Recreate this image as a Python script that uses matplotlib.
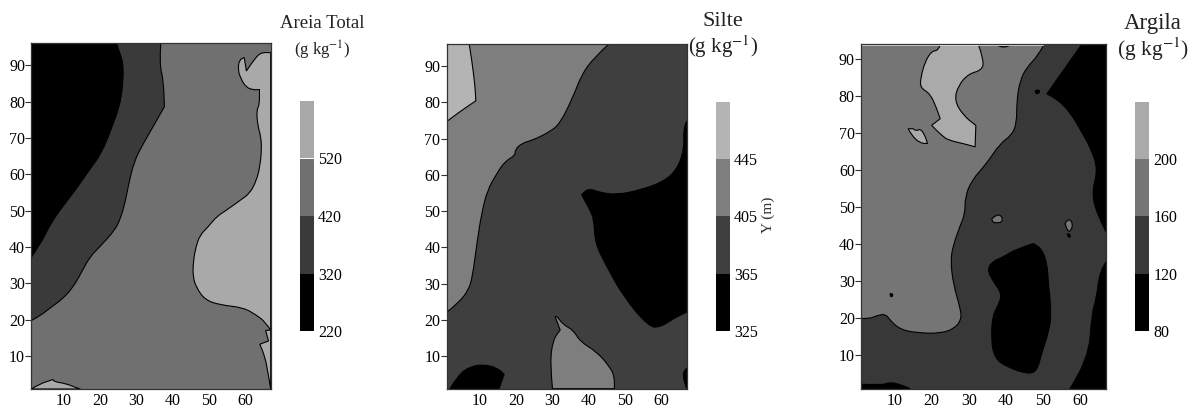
import numpy as np
import matplotlib
matplotlib.use('Agg')
import matplotlib.pyplot as plt
from matplotlib.path import Path
from matplotlib.patches import PathPatch

plt.rcParams['font.family'] = ['Liberation Serif', 'DejaVu Serif']
plt.rcParams['mathtext.fontset'] = 'stix'

# --- Areia Total: contour regions (x, y in m)
# a point written twice stays a sharp corner, the others are bezier control points
areia_preto = [(24.5,96),(25.6,92.8),(26.4,90),(26.2,84),(25.3,78.6),(23.1,72.6),(20.4,65.8),(17,61.2),
               (13.5,56.1),(8.9,50.2),(6.1,46),(3.4,40.6),(1,37.2),(1,96)]
areia_escuro = [(36.7,96),(36.3,90.5),(37.4,86),(37.7,78.6),(37.7,78.6),(35.1,74),(31.9,68.5),(29.3,63.5),(27.7,56.6),
                (26.8,52),(25.6,47.9),(24.1,44.7),(19.9,40.1),(17.2,37.4),(14.9,33.2),(12.6,29.1),(9.8,25.9),
                (6.1,23.2),(3.4,21.1),(1,19.8),(1,96)]
areia_claro_dir = [(67,93.4),(64.6,93.7),(62.7,91.9),(60.3,88.4),(60.3,88.4),(59.7,92.1),(59.7,92.1),(58.3,91.4),(58,88.7),(58.7,86.4),
                   (60.2,83.9),(62.2,83.2),(63.9,83.3),(63.9,83.3),(63.9,79),(63.1,77.7),(63.4,73.5),(64.3,70.3),(64.5,66.7),
                   (64,62),(63.1,58.4),(61.3,54.8),(58.5,52.8),(54.9,50.2),(52.1,48.4),(49.8,45.6),(47.5,43.3),
                   (46.4,40.1),(45.7,36.4),(45.5,31.9),(46.6,28.7),(48.9,25.5),(53,24.1),(59.4,23.4),(63.1,21.3),
                   (65.4,19.5),(67,17.2)]
areia_claro_baixo_dir = [(67,17.2),(65.6,17.1),(65.6,17.1),(66.4,14.2),(66.4,14.2),(64,13.3),(64,13.3),(65.4,9.9),(66.3,5.3),(67,1)]
areia_claro_esq = [(1,1),(3.5,2.5),(6.5,3.4),(7,3.7),(7.3,3),(10.5,2.5),(13,1.5),(14.5,1)]

# --- Silte
silte_claro = [(7.2,96),(7.9,91.7),(8.8,84.4),(9,80.4),(9,80.4),(4.7,77.5),(1,74.7),(1,96)]
silte_medio = [(45.5,96),(41.4,92.2),(38.1,87.6),(35.8,81.6),(32.2,74.2),(29.4,71.9),(24.8,69.6),(21.6,68.7),
               (19.8,66.9),(19.8,65.3),(17,63.7),(14.8,60.4),(12.2,55.8),(10.6,49.4),(9.3,41.1),(8.1,31.9),
               (7,28.2),(4.2,24.6),(1,22.1),(1,96)]
silte_medio_baixo = [(30.1,1),(29.4,8),(30.2,14.4),(32.2,17.2),(32.2,17.2),(30.8,20.9),(30.8,20.9),(31.4,20.9),(33.1,18.6),(35.8,17.2),
                     (37.7,14),(42.2,11.2),(45.5,7.5),(47.3,4.3),(47.1,1)]
silte_preto = [(67,74.7),(66.1,73.3),(66.3,66.9),(64.3,61.4),(60.6,58.1),(54.2,55.8),(47.8,54.5),(43.2,55.1),
               (40,56.3),(38.1,54.5),(38.1,54.5),(40.4,50.3),(41.5,47.6),(41.8,41.1),(45,34.7),(49.6,26.4),(56.5,18.1),
               (59.7,17.9),(64.2,20.9),(67,22.1)]
silte_preto_esq = [(1.9,1),(4.2,4.8),(7.4,7.1),(11.1,7.7),(14.8,6.8),(16.8,5),(16.8,5),(15.4,1)]
silte_preto_dir = [(67,6.6),(65.9,5.7),(66.3,2.9),(67,1)]

# --- Argila
argila_medio = [(50.1,93.7),(48.7,91),(45.6,87.8),(43.8,84.2),(42.9,78.9),(42.9,72.6),(41.5,69.4),(38.4,67.2),
                (34.8,61.8),(30.8,57.3),(29,52.8),(29,48.3),(27.7,45.1),(25.8,39.7),(25.1,35.7),(25.8,29.4),
                (27.6,23.1),(28.1,20),(26.3,17.3),(22.3,15.9),(16,16.1),(11.5,17),(8.8,19.5),(7.7,21.1),
                (5.7,20.9),(3,19.8),(1,20),(1,93.7)]
argila_claro = [(22.3,93.9),(21.8,92.3),(20,92.2),(18.2,89.2),(17.1,85.1),(16.9,82.3),(19.6,80.7),(21.4,76.6),
                (22.3,73.9),(22.3,73.9),(20,72.1),(20,72.1),(22.7,69.4),(24.5,68.1),(28.5,67.2),(31.7,66.3),(31.7,66.3),(31.9,72.1),(31.9,72.1),(28.5,74.8),
                (26.1,78.9),(27.2,82.9),(29.9,86),(33.5,87),(34.1,89.6),(32.6,93.9)]
argila_claro_ilha = [(13.7,71.2),(14.6,69.4),(16.9,67.3),(18.9,67.2),(18.9,67.2),(18.2,69.4),(17,71.2),(15.9,70.6),(15,71.2)]
argila_preto_dir = [(60.4,94),(51,80.6),(51,80.6),(54.1,78.9),(57.2,75.7),(59.9,71.2),(63.1,65.4),(64.7,60),(63.1,54.1),
                    (64.4,48.3),(67,43.2),(67,94)]
argila_preto_baixo = [(67,35.3),(65.3,33),(64.4,25.8),(63.1,21.3),(62.2,8.7),(57.2,1),(67,1)]
argila_preto_centro = [(47.4,40.2),(42.9,38.8),(39.3,36.6),(36.2,35.3),(35,33),(36.6,29.9),(38.9,26.7),(38,23.6),
                       (36.4,20.9),(36,14.1),(37,9.2),(40.2,6.9),(45.6,5),(48.3,5.6),(49.6,10.5),(51.4,15.9),
                       (52.3,21.3),(51.4,29.4),(51.1,34.8),(49.6,38.8),(47.4,40.2)]
argila_preto_canto = [(1,1),(1,2.2),(7,2),(8,2.6),(11,2.5),(14.2,1)]
argila_ponto_a = [(36.2,46.9),(37.6,48.2),(39.1,47.4),(38.9,45.9),(37.6,45.8),(36.4,45.9),(36.2,46.9)]
argila_ponto_b = [(55.9,45.6),(56.8,47.1),(58.1,45.6),(57.4,43.5),(56.6,43.5),(55.9,45.6)]
argila_ponto_topo = [(37.5,93.9),(39.3,92.6),(41.3,93.9)]
argila_ponto_c = [(47.9,81.5),(48.6,81.8),(49.2,81.3),(48.6,80.6),(47.9,80.8),(47.9,81.5)]
argila_ponto_d = [(56.5,42.8),(57.2,42.9),(57.4,42),(56.8,41.8),(56.5,42.8)]
argila_ponto_e = [(8.8,26.6),(9.4,26.8),(9.6,26.1),(9,25.7),(8.8,26.6)]

# colorbar classes
areia_niveis = [220, 320, 420, 520]
silte_niveis = [325, 365, 405, 445]
argila_niveis = [80, 120, 160, 200]

x_ticks = [10, 20, 30, 40, 50, 60]
y_ticks = [10, 20, 30, 40, 50, 60, 70, 80, 90]

W, H = 1189, 408


def px_axes(fig, left, top, right, bottom):
    return fig.add_axes([left / W, 1 - bottom / H, (right - left) / W, (bottom - top) / H])


def curva(pts, ymax):
    # quadratic bezier through the read points, frame points stay sharp
    p = np.array(pts, dtype=float)
    borda = (p[:, 0] <= 1) | (p[:, 0] >= 67) | (p[:, 1] <= 1) | (p[:, 1] >= ymax - 0.4)
    verts = [p[0]]
    codes = [Path.MOVETO]
    for i in range(1, len(p) - 1):
        if borda[i]:
            verts.append(p[i])
            codes.append(Path.LINETO)
            continue
        fim = p[i + 1] if borda[i + 1] else (p[i] + p[i + 1]) / 2
        verts += [p[i], fim]
        codes += [Path.CURVE3, Path.CURVE3]
    verts += [p[-1], p[0]]
    codes += [Path.LINETO, Path.CLOSEPOLY]
    return Path(verts, codes)


def mapa(fig, box, ymax, fundo, regioes):
    ax = px_axes(fig, *box)
    ax.set_facecolor(fundo)
    for pts, cor in regioes:
        ax.add_patch(PathPatch(curva(pts, ymax), facecolor=cor, edgecolor='black', linewidth=0.8))
    ax.set_xlim(1, 67)
    ax.set_ylim(1, ymax)
    ax.set_xticks(x_ticks)
    ax.set_yticks(y_ticks)
    ax.tick_params(axis='x', length=0, pad=3, labelsize=11.5)
    ax.tick_params(axis='y', length=4, width=0.8, pad=0.5, labelsize=11.5, color='#333333')
    for s in ax.spines.values():
        s.set_linewidth(0.9)
        s.set_color('#333333')
    return ax


def barra(fig, box, niveis, cores):
    ax = px_axes(fig, *box)
    passo = niveis[1] - niveis[0]
    ax.bar([0] * 4, [passo] * 4, width=1, bottom=niveis, color=cores, linewidth=0, antialiased=False)
    ax.set_xlim(-0.5, 0.5)
    ax.set_ylim(niveis[0], niveis[-1] + passo)
    ax.set_xticks([])
    ax.set_yticks(niveis)
    ax.yaxis.tick_right()
    ax.tick_params(axis='y', length=0, pad=3, labelsize=11.5)
    for s in ax.spines.values():
        s.set_visible(False)
    return ax


fig = plt.figure(figsize=(W / 100, H / 100), dpi=100)

# Areia Total
c1 = ['#000000', '#3a3a3a', '#707070', '#a9a9a9']
mapa(fig, (31.3, 43.3, 270.7, 389), 96, c1[2], [
    (areia_escuro, c1[1]), (areia_preto, c1[0]), (areia_claro_dir, c1[3]),
    (areia_claro_baixo_dir, c1[3]), (areia_claro_esq, c1[3])])
barra(fig, (300, 101, 314, 331), areia_niveis, c1)

# Silte
c2 = ['#000000', '#3f3f3f', '#7e7e7e', '#b4b4b4']
mapa(fig, (446.7, 44.3, 686.7, 388.7), 96, c2[1], [
    (silte_medio, c2[2]), (silte_claro, c2[3]), (silte_medio_baixo, c2[2]),
    (silte_preto, c2[0]), (silte_preto_esq, c2[0]), (silte_preto_dir, c2[0])])
barra(fig, (715.7, 101.7, 730, 331), silte_niveis, c2)

# Argila
c3 = ['#000000', '#383838', '#757575', '#aaaaaa']
ax3 = mapa(fig, (861, 44.3, 1106.3, 388.7), 94, c3[1], [
    (argila_medio, c3[2]), (argila_claro, c3[3]), (argila_claro_ilha, c3[3]),
    (argila_preto_dir, c3[0]), (argila_preto_baixo, c3[0]), (argila_preto_centro, c3[0]),
    (argila_preto_canto, c3[0]), (argila_ponto_a, c3[2]), (argila_ponto_b, c3[2]),
    (argila_ponto_c, c3[0]), (argila_ponto_d, c3[0]), (argila_ponto_e, c3[0]),
    (argila_ponto_topo, c3[1])])
ax3.plot([1, 50], [93.8, 93.8], color='white', linewidth=1.2)
barra(fig, (1135, 101.7, 1149.3, 331), argila_niveis, c3)

# titles and the loose axis label
textos = [
    (322, 23, 'Areia Total', 13.5),
    (322, 50, '(g kg$^{-1}$)', 12),
    (723, 22, 'Silte', 16),
    (723, 47, '(g kg$^{-1}$)', 15),
    (1153, 23, 'Argila', 16.5),
    (1153, 49, '(g kg$^{-1}$)', 15.5),
]
for px, py, s, fs in textos:
    fig.text(px / W, 1 - py / H, s, ha='center', va='center', fontsize=fs, color='#222222')
fig.text(768 / W, 1 - 215 / H, 'Y (m)', rotation=90, ha='center', va='center', fontsize=11, color='#333333')

fig.savefig('out.png', dpi=100)
